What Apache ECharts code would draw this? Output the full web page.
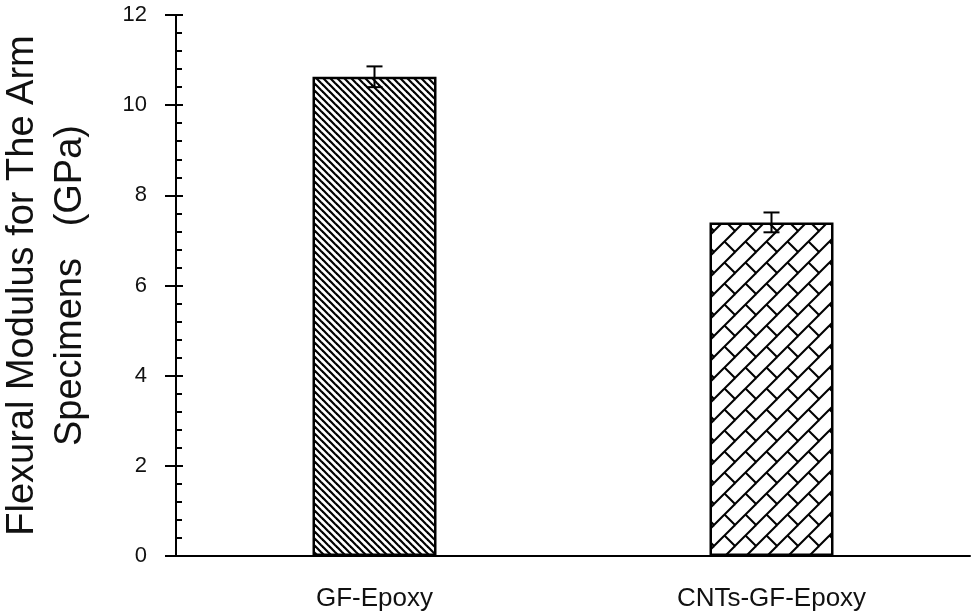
<!DOCTYPE html>
<html>
<head>
<meta charset="utf-8">
<script src="https://cdn.jsdelivr.net/npm/echarts@6/dist/echarts.min.js"></script>
<style>
  html, body { margin: 0; padding: 0; background: #fff; }
  #chart { width: 975px; height: 615px; }
</style>
</head>
<body>
<div id="chart"></div>
<script>
// data
var categories = ['GF-Epoxy', 'CNTs-GF-Epoxy'];
var modulus = [10.63, 7.4];
var modulus_err = [0.23, 0.22];
var y_ticks = [0, 2, 4, 6, 8, 10, 12];

var font = 'Liberation Sans';

// hatch tiles drawn on small canvases
function make_tile(size, draw) {
    var c = document.createElement('canvas');
    c.width = size;
    c.height = size;
    var ctx = c.getContext('2d');
    ctx.fillStyle = '#fff';
    ctx.fillRect(0, 0, size, size);
    ctx.strokeStyle = '#000';
    ctx.lineCap = 'butt';
    draw(ctx, size);
    return c;
}

// "\" diagonal lines
var tile_diag = make_tile(7, function(ctx, t) {
    ctx.lineWidth = 2.2;
    for (var k = -1; k <= 1; k++) {
        ctx.beginPath();
        ctx.moveTo(k * t - 1, -1);
        ctx.lineTo(k * t + t + 1, t + 1);
        ctx.stroke();
    }
});

// diagonal brick
var tile_brick = make_tile(21, function(ctx, t) {
    ctx.lineWidth = 2;
    for (var k = -1; k <= 1; k++) {
        ctx.beginPath();
        ctx.moveTo(k * t - 1, t + 1);
        ctx.lineTo(k * t + t + 1, -1);
        ctx.stroke();
    }
    // short connectors between the long lines
    [[0, 0], [-t, -t]].forEach(function(o) {
        ctx.beginPath();
        ctx.moveTo(o[0] + t / 2, o[1] + t / 2);
        ctx.lineTo(o[0] + t, o[1] + t);
        ctx.stroke();
    });
});

var patterns = [tile_diag, tile_brick];

var bar_data = modulus.map(function(v, i) {
    return {
        value: v,
        itemStyle: {
            color: { image: patterns[i], repeat: 'repeat' }
        }
    };
});

var err_data = modulus.map(function(v, i) {
    return [i, v - modulus_err[i], v + modulus_err[i]];
});

var y_axis_base = {
    type: 'value',
    min: y_ticks[0],
    max: y_ticks[y_ticks.length - 1],
    interval: 2,
    position: 'left',
    splitLine: { show: false }
};

var option = {
    animation: false,
    backgroundColor: '#fff',
    grid: {
        left: 176,
        right: 5,
        top: 15,
        bottom: 59,
        containLabel: false,
        outerBoundsMode: 'none'
    },
    xAxis: {
        type: 'category',
        data: categories,
        axisLine: { lineStyle: { color: '#000', width: 2 } },
        axisTick: { show: false },
        axisLabel: {
            color: '#111',
            fontSize: 26,
            fontFamily: font,
            margin: 30
        }
    },
    yAxis: [
        Object.assign({}, y_axis_base, {
            name: 'Flexural Modulus for The Arm\nSpecimens   (GPa)',
            nameLocation: 'middle',
            nameRotate: 90,
            nameGap: 81,
            nameTextStyle: {
                color: '#111',
                fontSize: 38,
                fontFamily: font,
                lineHeight: 48,
                align: 'center'
            },
            axisLine: { show: true, lineStyle: { color: '#000', width: 2 } },
            axisTick: { show: true, length: 11, lineStyle: { color: '#000', width: 2 } },
            axisLabel: {
                color: '#111',
                fontSize: 22,
                fontFamily: font,
                margin: 29
            }
        }),
        Object.assign({}, y_axis_base, {
            axisLine: { show: false },
            axisTick: { show: true, inside: true, length: 7, lineStyle: { color: '#000', width: 2 } },
            minorTick: { show: true, splitNumber: 5, length: 6, lineStyle: { color: '#000', width: 2 } },
            axisLabel: { show: false }
        })
    ],
    series: [
        {
            type: 'bar',
            data: bar_data,
            barWidth: 124,
            itemStyle: {
                borderColor: '#000',
                borderWidth: 2.5
            }
        },
        {
            type: 'custom',
            data: err_data,
            z: 10,
            renderItem: function(params, api) {
                var lo = api.coord([api.value(0), api.value(1)]);
                var hi = api.coord([api.value(0), api.value(2)]);
                var half = 8;
                var style = { stroke: '#000', lineWidth: 2 };
                return {
                    type: 'group',
                    children: [
                        { type: 'line', shape: { x1: hi[0], y1: hi[1], x2: lo[0], y2: lo[1] }, style: style },
                        { type: 'line', shape: { x1: hi[0] - half, y1: hi[1], x2: hi[0] + half, y2: hi[1] }, style: style },
                        { type: 'line', shape: { x1: lo[0] - half, y1: lo[1], x2: lo[0] + half, y2: lo[1] }, style: style }
                    ]
                };
            }
        }
    ]
};

var chart = echarts.init(document.getElementById('chart'));
chart.setOption(option);
</script>
</body>
</html>
